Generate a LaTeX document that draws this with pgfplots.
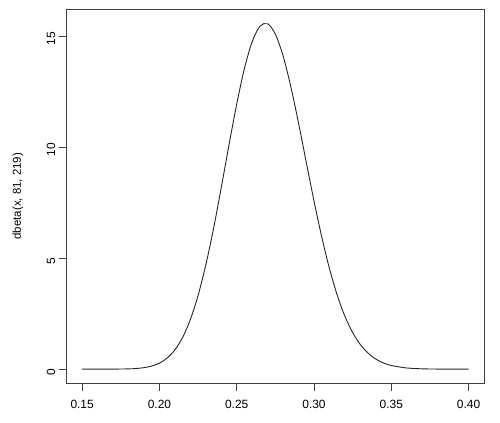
\documentclass[border=0pt]{standalone}
\usepackage{pgfplots}
\pgfplotsset{compat=1.18}
\usepackage{pgfplotstable}
\usepackage{fontspec}
\setmainfont{Liberation Sans}
\pgfplotstableread{
x y
0.150 0.000015
0.160 0.0002
0.170 0.00188
0.180 0.01293
0.185 0.0305
0.190 0.0673
0.195 0.1395
0.200 0.2717
0.205 0.4995
0.210 0.8678
0.215 1.4282
0.220 2.2316
0.225 3.3155
0.230 4.6918
0.235 6.3220
0.240 8.1737
0.245 10.089
0.250 11.933
0.255 13.535
0.260 14.742
0.265 15.434
0.270 15.547
0.275 15.081
0.280 14.102
0.285 12.719
0.290 11.076
0.295 9.315
0.300 7.572
0.305 5.955
0.310 4.531
0.315 3.339
0.320 2.383
0.325 1.648
0.330 1.1054
0.335 0.7192
0.340 0.4540
0.345 0.2781
0.350 0.1655
0.360 0.0537
0.370 0.0155
0.380 0.0040
0.390 0.00092
0.400 0.00019
}\betadata
\begin{document}
\begin{tikzpicture}
\path[use as bounding box] (0,0) rectangle (500bp,423bp);
\begin{axis}[
  at={(66.7bp,40bp)}, anchor=south west,
  scale only axis, width=417.3bp, height=373.7bp,
  xmin=0.14, xmax=0.41, ymin=-0.623, ymax=16.198,
  axis line style={black!75, line width=0.8bp},
  xtick={0.15,0.20,0.25,0.30,0.35,0.40},
  ytick={0,5,10,15},
  xtick pos=bottom, ytick pos=left,
  tick align=outside, major tick length=8bp,
  tick style={black!75, line width=0.8bp},
  /pgf/number format/assume math mode=true,
  xticklabel style={/pgf/number format/fixed, /pgf/number format/fixed zerofill, /pgf/number format/precision=2, yshift=-6bp},
  yticklabel style={rotate=90, anchor=south, xshift=-3bp},
  ticklabel style={font=\fontsize{12}{14}\selectfont},
  ylabel={dbeta(x, 81, 219)},
  ylabel style={font=\fontsize{11.5}{14}\selectfont, at={(-48.7bp,0.5)}, anchor=center},
  clip=false,
]
\addplot[black!85, line width=0.9bp, smooth] table[x=x, y=y] {\betadata};
\end{axis}
\end{tikzpicture}
\end{document}
